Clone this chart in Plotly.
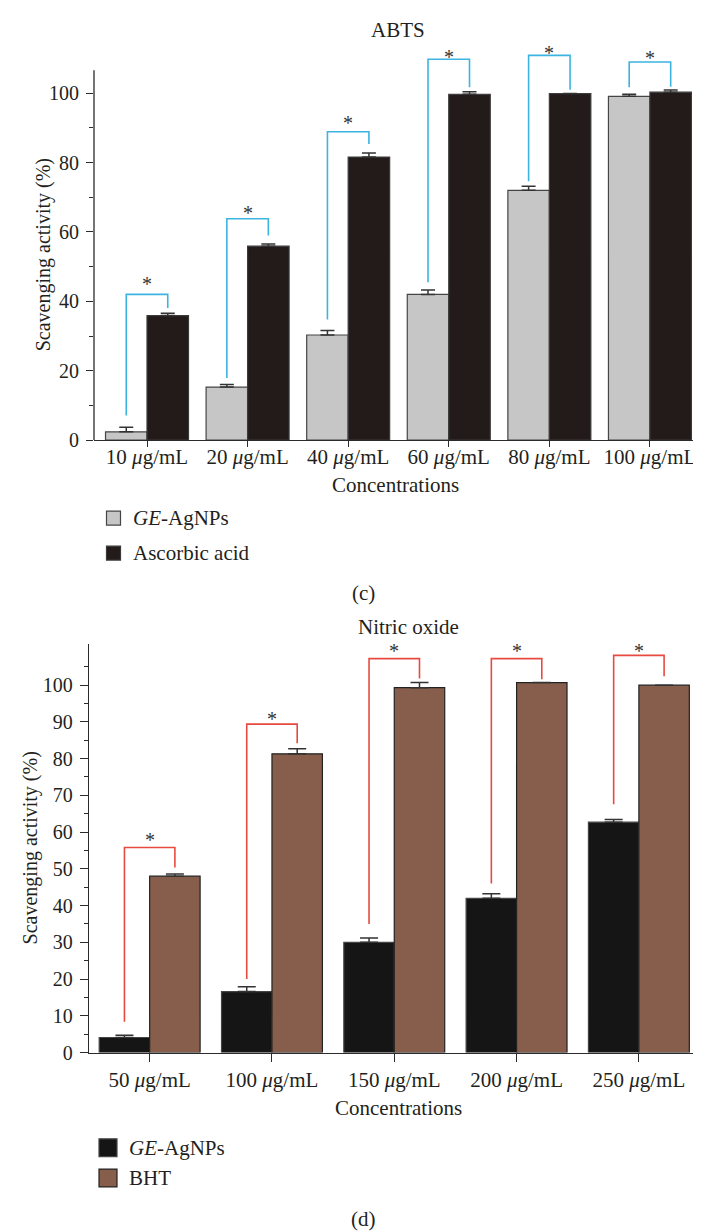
import plotly.graph_objects as go

# ---------------- data: (c) ABTS ----------------
abts_conc = ["10 <i>μ</i>g/mL", "20 <i>μ</i>g/mL", "40 <i>μ</i>g/mL",
             "60 <i>μ</i>g/mL", "80 <i>μ</i>g/mL", "100 <i>μ</i>g/mL"]
abts_ge = [2.4, 15.3, 30.3, 42.0, 72.0, 99.1]
abts_ge_err = [1.3, 0.7, 1.3, 1.3, 1.2, 0.6]
abts_asc = [35.9, 55.9, 81.6, 99.7, 99.9, 100.3]
abts_asc_err = [0.7, 0.6, 1.2, 0.7, 0.0, 0.6]
# significance brackets (left foot, top, right foot) and star level
abts_br_left = [7.1, 17.9, 34.8, 45.5, 74.6, 101.7]
abts_br_top = [42.0, 63.8, 88.9, 109.8, 110.9, 109.0]
abts_br_right = [38.1, 59.0, 85.4, 101.7, 101.0, 101.9]
abts_star = [46.0, 66.3, 92.3, 111.4, 112.4, 110.9]
abts_yticks = [0, 20, 40, 60, 80, 100]
abts_yminor = [10, 30, 50, 70, 90]

# ---------------- data: (d) Nitric oxide ----------------
no_conc = ["50 <i>μ</i>g/mL", "100 <i>μ</i>g/mL", "150 <i>μ</i>g/mL",
           "200 <i>μ</i>g/mL", "250 <i>μ</i>g/mL"]
no_ge = [4.1, 16.6, 30.0, 42.0, 62.7]
no_ge_err = [0.6, 1.3, 1.2, 1.2, 0.7]
no_bht = [48.0, 81.3, 99.3, 100.7, 100.0]
no_bht_err = [0.6, 1.4, 1.4, 0.0, 0.0]
no_br_left = [8.4, 20.0, 35.0, 46.0, 67.6]
no_br_top = [55.8, 89.4, 107.2, 107.2, 108.1]
no_br_right = [50.4, 84.2, 101.8, 101.6, 102.4]
no_star = [58.6, 91.7, 110.0, 110.0, 110.0]
no_yticks = [0, 10, 20, 30, 40, 50, 60, 70, 80, 90, 100]
no_yminor = [5, 15, 25, 35, 45, 55, 65, 75, 85, 95, 105]

# ---------------- style ----------------
W, H = 701, 1232
FONT = "Liberation Serif"
TXT = "#231f20"
AX = "#2b2b2b"
BARGAP = 0.175

def px(x):
    return x / W

def py(y):
    return 1 - y / H

fig = go.Figure()

def err(arr, w):
    return dict(type="data", array=arr, arrayminus=[0] * len(arr), symmetric=False,
                color="#333333", thickness=1.5, width=w)

fig.add_trace(go.Bar(x=abts_conc, y=abts_ge, name="GE-AgNPs", error_y=err(abts_ge_err, 7),
                     marker=dict(color="#c5c6c5", line=dict(color="#454545", width=1.2)),
                     xaxis="x", yaxis="y", showlegend=False))
fig.add_trace(go.Bar(x=abts_conc, y=abts_asc, name="Ascorbic acid", error_y=err(abts_asc_err, 7),
                     marker=dict(color="#231a1a", line=dict(color="#3a3a3a", width=1.2)),
                     xaxis="x", yaxis="y", showlegend=False))
fig.add_trace(go.Bar(x=no_conc, y=no_ge, name="GE-AgNPs", error_y=err(no_ge_err, 9),
                     marker=dict(color="#151515", line=dict(color="#444444", width=1.2)),
                     xaxis="x2", yaxis="y2", showlegend=False))
fig.add_trace(go.Bar(x=no_conc, y=no_bht, name="BHT", error_y=err(no_bht_err, 9),
                     marker=dict(color="#875e4b", line=dict(color="#222222", width=1.2)),
                     xaxis="x2", yaxis="y2", showlegend=False))

shapes = []
annotations = []
off = (1 - BARGAP) / 4  # centre offset of each bar within the group


def brackets(n, left, top, right, star, xr, yr, color):
    for i in range(n):
        xl, xrr = i - off, i + off
        shapes.append(dict(type="path", xref=xr, yref=yr,
                           path=f"M {xl},{left[i]} L {xl},{top[i]} L {xrr},{top[i]} L {xrr},{right[i]}",
                           line=dict(color=color, width=1.6), layer="above"))
        annotations.append(dict(x=i, y=star[i], xref=xr, yref=yr, text="*", showarrow=False,
                                yanchor="middle", yshift=-3,
                                font=dict(family=FONT, size=20, color="#333333")))


brackets(6, abts_br_left, abts_br_top, abts_br_right, abts_star, "x", "y", "#3cb4e0")
brackets(5, no_br_left, no_br_top, no_br_right, no_star, "x2", "y2", "#e84a40")

# top y-axis line (only up to the data frame top, brackets poke above it)
top_dom = [py(436), py(40.5)]
top_rng = [0, 113]
axis_top_val = 106.6
ytop_paper = top_dom[0] + (axis_top_val - top_rng[0]) / (top_rng[1] - top_rng[0]) * (top_dom[1] - top_dom[0])
shapes.append(dict(type="line", xref="paper", yref="paper", x0=px(86), x1=px(86),
                   y0=top_dom[0], y1=ytop_paper, line=dict(color=AX, width=1.3)))

# manual legends
def legend_item(x0, yc, size, color, edge, label):
    shapes.append(dict(type="rect", xref="paper", yref="paper",
                       x0=px(x0), x1=px(x0 + size), y0=py(yc + size / 2), y1=py(yc - size / 2),
                       fillcolor=color, line=dict(color=edge, width=1.2)))
    annotations.append(dict(x=px(x0 + size + 10), y=py(yc), xref="paper", yref="paper",
                            text=label, showarrow=False, xanchor="left", yanchor="middle",
                            font=dict(family=FONT, size=21, color=TXT)))

legend_item(98.5, 514.7, 14, "#c5c6c5", "#454545", "<i>GE</i>-AgNPs")
legend_item(98.5, 550, 14, "#231a1a", "#3a3a3a", "Ascorbic acid")
legend_item(91, 1150, 18, "#151515", "#444444", "<i>GE</i>-AgNPs")
legend_item(91, 1180.5, 18, "#875e4b", "#222222", "BHT")

def text(x, y, t, size=21, angle=0):
    annotations.append(dict(x=px(x), y=py(y), xref="paper", yref="paper", text=t,
                            showarrow=False, xanchor="center", yanchor="middle", textangle=angle,
                            font=dict(family=FONT, size=size, color=TXT)))

text(390, 22.7, "ABTS")
text(387, 481.7, "Concentrations")
text(35, 249.5, "Scavenging activity (%)", size=20, angle=-90)
text(355, 590, "(c)")
text(400, 625, "Nitric oxide")
text(390, 1110, "Concentrations")
text(22, 848, "Scavenging activity (%)", size=20, angle=-90)
text(355, 1221.7, "(d)")

xtickfont = dict(family=FONT, size=21, color=TXT)
ytickfont = dict(family=FONT, size=20, color=TXT)
common_x = dict(type="category", showline=True, linecolor=AX, linewidth=1.3, ticks="outside",
                tickwidth=1.3, tickcolor=AX, tickfont=xtickfont, showgrid=False,
                zeroline=False, fixedrange=True)
common_y = dict(ticks="outside", tickwidth=1.3, tickcolor=AX, tickfont=ytickfont, showgrid=False,
                zeroline=False, tickmode="array", ticklabelstandoff=3)

fig.update_layout(
    width=W, height=H, margin=dict(l=0, r=0, t=0, b=0),
    paper_bgcolor="white", plot_bgcolor="rgba(0,0,0,0)",
    barmode="group", bargap=BARGAP, bargroupgap=0,
    xaxis=dict(domain=[px(86), px(688)], range=[-0.527, 5.458], anchor="y", ticklen=6,
               ticklabelstandoff=-8, **common_x),
    yaxis=dict(domain=top_dom, range=top_rng, anchor="x", showline=False,
               tickvals=abts_yticks, ticklen=7,
               minor=dict(tickmode="array", tickvals=abts_yminor, ticks="outside", ticklen=4,
                          tickcolor=AX, tickwidth=1.2),
               **common_y),
    xaxis2=dict(domain=[px(81), px(699)], range=[-0.496, 4.557], anchor="y2", ticklen=8,
                **common_x),
    yaxis2=dict(domain=[py(1054), py(641.7)], range=[0, 111.2], anchor="x2", showline=True,
                linecolor=AX, linewidth=1.3, tickvals=no_yticks, ticklen=8,
                minor=dict(tickmode="array", tickvals=no_yminor, ticks="outside", ticklen=4,
                           tickcolor=AX, tickwidth=1.2),
                **common_y),
    shapes=shapes,
    annotations=annotations,
)

fig.write_html("out.html")
